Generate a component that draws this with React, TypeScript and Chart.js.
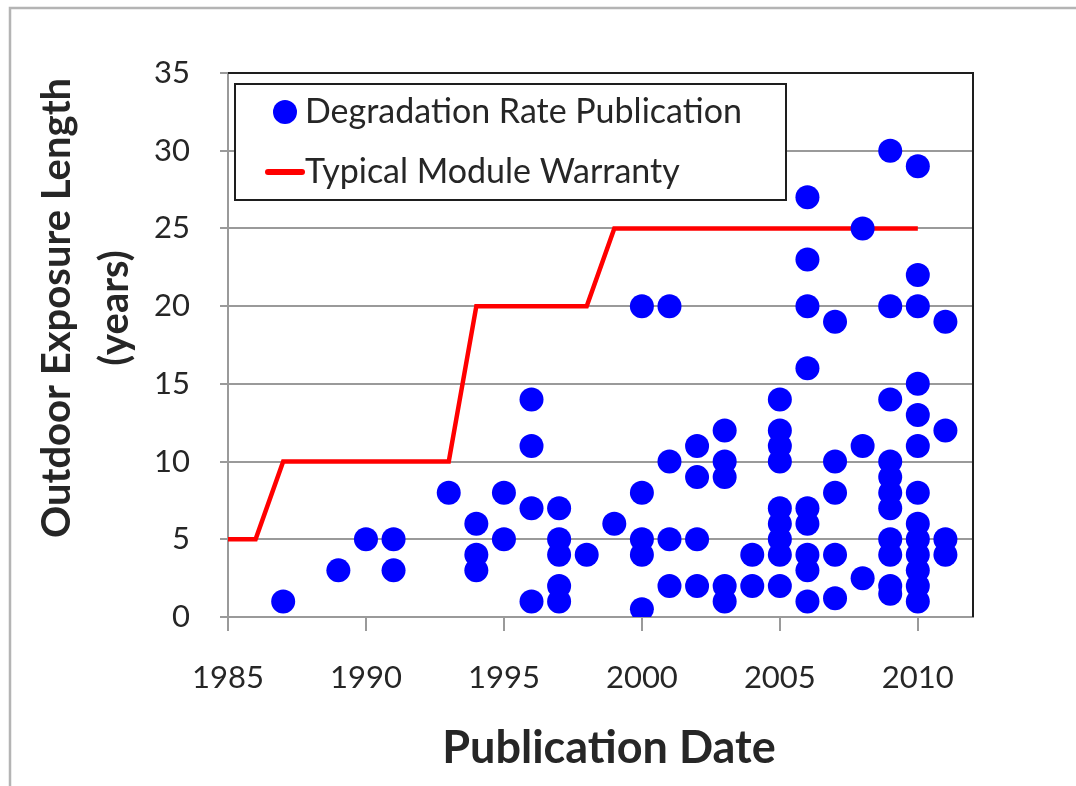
import React, { useEffect, useRef } from 'react';
import { Chart, registerables } from 'chart.js';

Chart.register(...registerables);

// Publication year of each degradation-rate study
const pubYears = [
  1987,
  1989,
  1990,
  1991, 1991,
  1993,
  1994, 1994, 1994,
  1995, 1995,
  1996, 1996, 1996, 1996,
  1997, 1997, 1997, 1997, 1997,
  1998,
  1999,
  2000, 2000, 2000, 2000, 2000,
  2001, 2001, 2001, 2001,
  2002, 2002, 2002, 2002,
  2003, 2003, 2003, 2003, 2003,
  2004, 2004,
  2005, 2005, 2005, 2005, 2005, 2005, 2005, 2005, 2005,
  2006, 2006, 2006, 2006, 2006, 2006, 2006, 2006, 2006,
  2007, 2007, 2007, 2007, 2007,
  2008, 2008, 2008,
  2009, 2009, 2009, 2009, 2009, 2009, 2009, 2009, 2009, 2009, 2009,
  2010, 2010, 2010, 2010, 2010, 2010, 2010, 2010, 2010, 2010, 2010, 2010, 2010,
  2011, 2011, 2011, 2011,
];

// Outdoor exposure length (years) of each study, same order as pubYears
const exposureLengths = [
  1,
  3,
  5,
  5, 3,
  8,
  6, 4, 3,
  8, 5,
  14, 11, 7, 1,
  7, 5, 4, 2, 1,
  4,
  6,
  20, 8, 5, 4, 0.5,
  20, 10, 5, 2,
  11, 9, 5, 2,
  12, 10, 9, 2, 1,
  4, 2,
  14, 12, 11, 10, 7, 6, 5, 4, 2,
  27, 23, 20, 16, 7, 6, 4, 3, 1,
  19, 10, 8, 4, 1.2,
  25, 11, 2.5,
  30, 20, 14, 10, 9, 8, 7, 5, 4, 2, 1.5,
  29, 22, 20, 15, 13, 11, 8, 6, 5, 4, 3, 2, 1,
  19, 12, 5, 4,
];

// Typical module warranty step line
const warrantyYears = [1985, 1986, 1987, 1993, 1994, 1998, 1999, 2010];
const warrantyLengths = [5, 5, 10, 10, 20, 20, 25, 25];

const seriesLabels = ['Degradation Rate Publication', 'Typical Module Warranty'];
const xTitle = 'Publication Date';
const yTitleLines = ['Outdoor Exposure Length', '(years)'];

const FONT = 'Lato, "Open Sans", sans-serif';
const TEXT = '#262626';
const GRID = '#9a9a9a';

export default function App() {
  const ref = useRef<HTMLCanvasElement | null>(null);

  useEffect(() => {
    document.body.style.margin = '0';
    const canvas = ref.current;
    if (!canvas) return;

    const framePlugin = {
      id: 'frame',
      beforeDraw(chart: any) {
        const ctx = chart.ctx;
        ctx.save();
        ctx.strokeStyle = '#b4b4b4';
        ctx.lineWidth = 2.5;
        ctx.beginPath();
        ctx.moveTo(10, chart.height + 5);
        ctx.lineTo(10, 8);
        ctx.lineTo(chart.width + 5, 8);
        ctx.stroke();
        ctx.restore();
      },
      beforeDatasetsDraw(chart: any) {
        const { ctx, chartArea: a } = chart;
        ctx.save();
        ctx.strokeStyle = '#1e1e1e';
        ctx.lineWidth = 2;
        ctx.beginPath();
        ctx.moveTo(a.left, a.top);
        ctx.lineTo(a.right, a.top);
        ctx.lineTo(a.right, a.bottom);
        ctx.stroke();
        ctx.restore();
      },
      afterDraw(chart: any) {
        const { ctx, chartArea: a } = chart;
        ctx.save();
        // y axis title (two lines, rotated)
        ctx.fillStyle = TEXT;
        ctx.font = `bold 40px ${FONT}`;
        ctx.textAlign = 'center';
        ctx.textBaseline = 'middle';
        const cy = 308;
        yTitleLines.forEach((line, i) => {
          ctx.save();
          ctx.translate(57 + i * 58, cy);
          ctx.rotate(-Math.PI / 2);
          ctx.fillText(line, 0, 0);
          ctx.restore();
        });

        // legend box
        const lx = a.left + 7;
        const ly = a.top + 11;
        const lw = 551;
        const lh = 116;
        ctx.fillStyle = '#ffffff';
        ctx.fillRect(lx, ly, lw, lh);
        ctx.strokeStyle = '#1e1e1e';
        ctx.lineWidth = 2;
        ctx.strokeRect(lx, ly, lw, lh);

        const ds = chart.data.datasets;
        ctx.font = `34px ${FONT}`;
        ctx.textAlign = 'left';
        ctx.textBaseline = 'middle';
        // item 1: marker
        ctx.fillStyle = ds[0].backgroundColor;
        ctx.beginPath();
        ctx.arc(lx + 50, ly + 28, 12, 0, Math.PI * 2);
        ctx.fill();
        ctx.fillStyle = TEXT;
        ctx.fillText(ds[0].label, lx + 70, ly + 28);
        // item 2: line
        ctx.strokeStyle = ds[1].borderColor;
        ctx.lineWidth = 6;
        ctx.lineCap = 'round';
        ctx.beginPath();
        ctx.moveTo(lx + 33, ly + 88);
        ctx.lineTo(lx + 67, ly + 88);
        ctx.stroke();
        ctx.fillStyle = TEXT;
        ctx.fillText(ds[1].label, lx + 70, ly + 88);

        // x axis title
        ctx.font = `bold 45px ${FONT}`;
        ctx.textAlign = 'center';
        ctx.textBaseline = 'middle';
        ctx.fillText(xTitle, 609, 748);
        ctx.restore();
      },
    };

    const chart = new Chart(canvas, {
      type: 'scatter',
      data: {
        datasets: [
          {
            type: 'scatter',
            label: seriesLabels[0],
            data: pubYears.map((x, i) => ({ x, y: exposureLengths[i] })),
            backgroundColor: '#0000ff',
            borderColor: '#0000ff',
            pointRadius: 12,
            pointBorderWidth: 0,
          },
          {
            type: 'line',
            label: seriesLabels[1],
            data: warrantyYears.map((x, i) => ({ x, y: warrantyLengths[i] })),
            borderColor: '#ff0000',
            backgroundColor: '#ff0000',
            borderWidth: 4.5,
            pointRadius: 0,
            fill: false,
            tension: 0,
          },
        ],
      } as any,
      options: {
        animation: false,
        responsive: false,
        maintainAspectRatio: false,
        layout: { padding: { left: 0, top: 73, right: 103, bottom: 0 } },
        plugins: {
          legend: { display: false },
          tooltip: { enabled: false },
          title: { display: false },
        },
        scales: {
          x: {
            type: 'linear',
            min: 1985,
            max: 2012,
            afterFit: (s: any) => { s.height = 169; },
            grid: { drawOnChartArea: false, drawTicks: true, tickLength: 14, color: GRID, lineWidth: 2 },
            border: { color: GRID, width: 2 },
            ticks: {
              stepSize: 5,
              includeBounds: false,
              padding: 28,
              color: TEXT,
              font: { family: FONT, size: 31 },
              maxRotation: 0,
              callback: (v: any) => String(v),
            },
          },
          y: {
            type: 'linear',
            min: 0,
            max: 35,
            afterFit: (s: any) => { s.width = 228; },
            grid: { color: GRID, lineWidth: 2, tickLength: 8, drawTicks: true },
            border: { color: GRID, width: 2 },
            ticks: {
              stepSize: 5,
              padding: 30,
              color: TEXT,
              font: { family: FONT, size: 31 },
            },
          },
        },
      } as any,
      plugins: [framePlugin],
    });

    return () => chart.destroy();
  }, []);

  return (
    <div style={{ position: 'relative', width: 1076, height: 786, background: '#fff' }}>
      <canvas ref={ref} width={1076} height={786} style={{ display: 'block', width: 1076, height: 786 }} />
    </div>
  );
}
